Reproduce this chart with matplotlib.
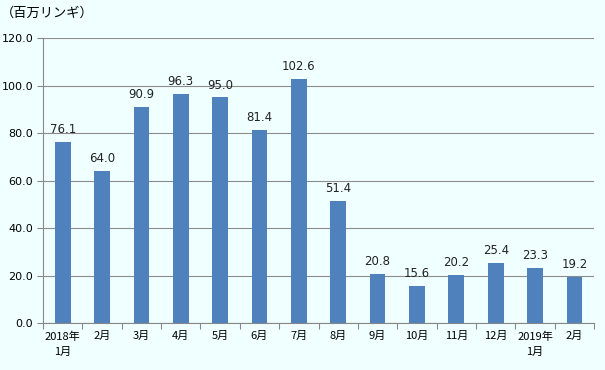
import numpy as np
import matplotlib
matplotlib.use('Agg')
import matplotlib.pyplot as plt

plt.rcParams['font.family'] = ['Noto Sans CJK JP', 'DejaVu Sans']

# --- Donnees ---
mois = ["2018年\n1月", "2月", "3月", "4月", "5月", "6月", "7月",
        "8月", "9月", "10月", "11月", "12月", "2019年\n1月", "2月"]
valeurs = [76.1, 64.0, 90.9, 96.3, 95.0, 81.4, 102.6,
           51.4, 20.8, 15.6, 20.2, 25.4, 23.3, 19.2]
yticks = [0, 20, 40, 60, 80, 100, 120]

fond = '#F0FFFF'
bleu = '#4F81BD'

fig = plt.figure(figsize=(6.05, 3.70), dpi=100, facecolor=fond)
ax = fig.add_axes([0.071, 0.127, 0.911, 0.770], facecolor=fond)

x = np.arange(len(mois))
ax.bar(x, valeurs, width=0.4, color=bleu, zorder=3)

for xi, v in zip(x, valeurs):
    ax.text(xi, v + 2.5, f"{v:.1f}", ha='center', va='bottom',
            fontsize=8.5, color='#222222', family='DejaVu Sans')

ax.set_xlim(-0.5, len(mois) - 0.5)
ax.set_ylim(0, 120)
ax.set_yticks(yticks)
ax.set_yticklabels([f"{t:.1f}" for t in yticks], fontsize=8, family='DejaVu Sans')
ax.yaxis.grid(True, color='#8C8C8C', linewidth=0.8, zorder=0)

# ticks de categories entre les barres
ax.set_xticks(np.arange(-0.5, len(mois)), minor=False)
ax.set_xticklabels([])
ax.set_xticks(x, minor=True)
ax.set_xticklabels(mois, minor=True, fontsize=8, linespacing=1.6)
ax.tick_params(axis='x', which='minor', length=0, pad=6)
ax.tick_params(axis='x', which='major', length=4, direction='out', color='#888888')
ax.tick_params(axis='y', length=4, color='#888888', pad=3)

for s in ['top', 'right']:
    ax.spines[s].set_visible(False)
for s in ['left', 'bottom']:
    ax.spines[s].set_color('#888888')

fig.text(0.002, 0.965, "（百万リンギ）", fontsize=9.5, ha='left', va='center')

plt.savefig('out.png', dpi=100, facecolor=fond)
